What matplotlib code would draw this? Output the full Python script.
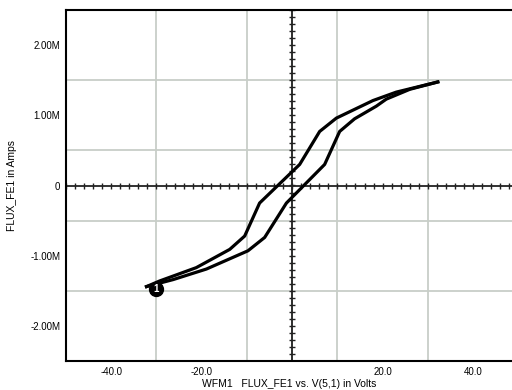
import matplotlib
matplotlib.use("Agg")
import matplotlib.pyplot as plt
from matplotlib.ticker import FixedLocator, FixedFormatter, MultipleLocator
import numpy as np

plt.rcParams['font.family'] = ['Liberation Sans', 'DejaVu Sans']

# Hysteresis loop: voltage (V) vs flux (Amps, in millions)
branch_up_v = [-32.2, -29.3, -21.2, -13.8, -10.5, -7.2, 1.66, 6.08, 9.77, 17.86, 23.0, 32.2]
branch_up_flux = [-1.44, -1.36, -1.17, -0.91, -0.72, -0.25, 0.30, 0.77, 0.96, 1.21, 1.33, 1.475]
branch_down_v = [32.2, 26.0, 20.8, 18.6, 13.8, 10.5, 7.18, -1.27, -6.08, -9.77, -18.96, -26.3, -32.2]
branch_down_flux = [1.475, 1.37, 1.23, 1.13, 0.95, 0.77, 0.30, -0.25, -0.74, -0.93, -1.19, -1.34, -1.44]

marker_v = -30.0
marker_flux = -1.47
marker_label = "1"

x_ticks = [-40, -20, 20, 40]
x_tick_labels = ["-40.0", "-20.0", "20.0", "40.0"]
y_ticks = [-2, -1, 0, 1, 2]
y_tick_labels = ["-2.00M", "-1.00M", "0", "1.00M", "2.00M"]

fig = plt.figure(figsize=(5.12, 3.90), dpi=100)
ax = fig.add_axes([66 / 512, 1 - 361 / 390, 1 - 66 / 512, (361 - 10) / 390])

ax.set_xlim(-50, 48.6)
ax.set_ylim(-2.5, 2.5)

# grid
ax.xaxis.set_minor_locator(MultipleLocator(10))
ax.yaxis.set_minor_locator(MultipleLocator(0.5))
ax.grid(which='minor', color='#c8cec8', linewidth=1.3, zorder=0)
ax.tick_params(which='minor', length=0)

ax.xaxis.set_major_locator(FixedLocator(x_ticks))
ax.xaxis.set_major_formatter(FixedFormatter(x_tick_labels))
ax.yaxis.set_major_locator(FixedLocator(y_ticks))
ax.yaxis.set_major_formatter(FixedFormatter(y_tick_labels))
ax.tick_params(which='major', length=0, labelsize=7, colors='black', pad=4)

# zero axes with small ticks
ax.axhline(0, color='#222222', lw=1.3, zorder=2)
ax.axvline(0, color='#222222', lw=1.3, zorder=2)
xt = np.arange(-50, 50, 2)
ax.plot(xt, np.zeros_like(xt), ls='none', marker='|', ms=4.5, mew=1.0, color='#222222', zorder=2)
yt = np.arange(-2.5, 2.51, 0.1)
ax.plot(np.zeros_like(yt), yt, ls='none', marker='_', ms=4.5, mew=1.0, color='#222222', zorder=2)

for s in ['left', 'bottom', 'top']:
    ax.spines[s].set_linewidth(1.5)
    ax.spines[s].set_color('black')
ax.spines['right'].set_visible(False)

ax.plot(branch_up_v, branch_up_flux, color='black', lw=2.3, solid_joinstyle='round', zorder=3)
ax.plot(branch_down_v, branch_down_flux, color='black', lw=2.3, solid_joinstyle='round', zorder=3)

ax.plot([marker_v], [marker_flux], marker='o', ms=10, color='black', zorder=4)
ax.text(marker_v, marker_flux, marker_label, color='white', fontsize=7, fontweight='bold',
        ha='center', va='center', zorder=5)

ax.set_xlabel("WFM1   FLUX_FE1 vs. V(5,1) in Volts", fontsize=7.5, labelpad=2)
ax.set_ylabel("FLUX_FE1 in Amps", fontsize=7.5, labelpad=10)

fig.savefig("out.png", dpi=100)
